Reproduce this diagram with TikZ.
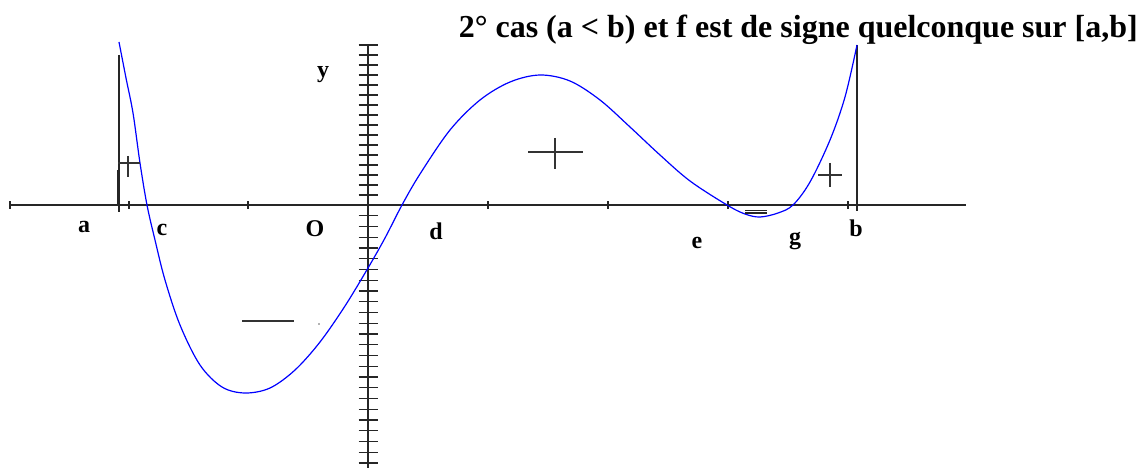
\documentclass[tikz,border=0pt]{standalone}
\usepackage{fontspec}
\setmainfont{Liberation Serif}
\begin{document}
\begin{tikzpicture}[x=1pt,y=-1pt,
  axis/.style={line width=1.3pt,black!85},
  tickx/.style={line width=1.1pt,black!85},
  curve/.style={line width=1.2pt,blue},
  sign/.style={line width=1.3pt,black!80},
  lbl/.style={font=\fontsize{24}{24}\selectfont\bfseries, inner sep=0pt}]
\useasboundingbox (0,0) rectangle (1141,468);
% title
\node[anchor=base east, inner sep=0pt, font=\fontsize{32}{32}\selectfont\bfseries] (title) at (1138,38) {2° cas (a < b) et f est de signe quelconque sur [a,b]};
% x axis
\coordinate (xl) at (10,205);
\coordinate (xr) at (966,205);
\draw[axis] (xl) -- (xr);
\foreach \t in {10,129,248,488,608,728,848}
  \draw[tickx] (\t,201) -- (\t,209);
% y axis
\coordinate (yt) at (368,45);
\coordinate (yb) at (368,468);
\draw[axis] (yt) -- (yb);
\foreach \k in {0,...,16}
  \draw[tickx] (358.5,45+10*\k) -- (377.5,45+10*\k);
\foreach \k in {1,...,24}
  \draw[tickx] (358.5,205+10.75*\k) -- (377.5,205+10.75*\k);
% vertical lines at a and b
\coordinate (at) at (119,55);
\coordinate (ab) at (119,212);
\draw[line width=1.1pt,black!85] (at) -- (ab);
\draw[line width=2.6pt,black!85] (118.5,170) -- (118.5,205);
\coordinate (bt) at (857,45);
\coordinate (bb) at (857,211);
\draw[line width=1.1pt,black!85] (bt) -- (bb);
% curve
\draw[curve] plot[smooth, tension=0.55] coordinates {
 (119,42) (126,78) (133,113) (140,163) (147,205) (155,240) (165,280)
 (180,325) (200,365) (222,387) (245,393) (270,388) (295,370) (320,342)
 (345,306) (368,268) (385,238) (402,205) (420,174) (450,130) (480,100)
 (510,82) (540,75) (570,81) (600,100) (630,127) (660,155) (690,181)
 (727,205) (745,214) (760,217) (778,213) (793,205) (810,182) (830,140)
 (845,97) (857,45)};
% signs
\draw[sign] (118,163) -- (140,163);
\draw[sign] (128,156) -- (128,177);
\draw[sign] (528,152) -- (583,152);
\draw[sign] (555,138) -- (555,169);
\draw[sign] (818,175) -- (842,175);
\draw[sign] (830,163) -- (830,187);
\draw[sign] (242,321) -- (294,321);
\draw[line width=1.1pt,black!85] (745,210.3) -- (767,210.3);
\draw[line width=1.1pt,black!85] (745,213) -- (767,213);
\fill[black!60] (319,324) circle (0.8);
% labels
\node[lbl, anchor=base] (la) at (84,233) {a};
\node[lbl, anchor=base] (lc) at (162,235) {c};
\node[lbl, anchor=base] (lO) at (315,236) {O};
\node[lbl, anchor=base] (ld) at (436,239) {d};
\node[lbl, anchor=base] (le) at (697,248) {e};
\node[lbl, anchor=base] (lg) at (795,244) {g};
\node[lbl, anchor=base] (lb) at (856,236) {b};
\node[lbl, anchor=base] (ly) at (323,78) {y};
\end{tikzpicture}
\end{document}
